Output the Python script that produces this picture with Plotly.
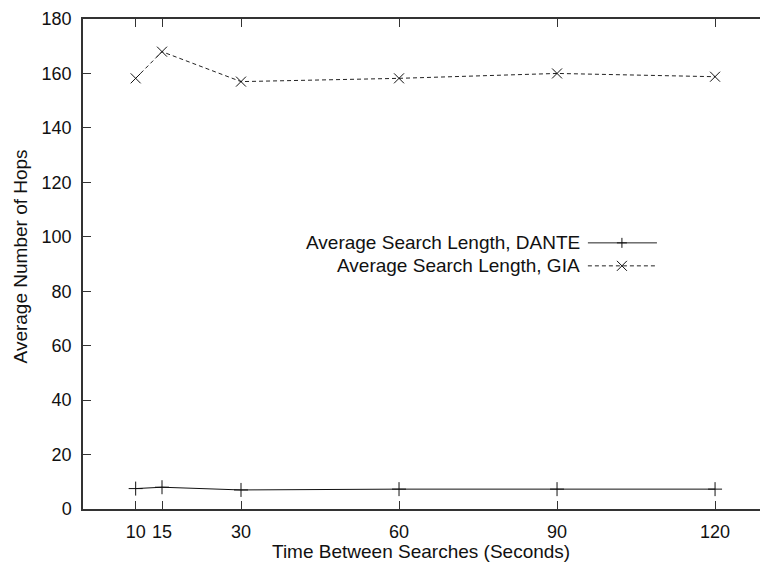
import plotly.graph_objects as go

# ---- data ----
time_between = [10, 15, 30, 60, 90, 120]
dante_hops = [7.5, 8.0, 7.0, 7.3, 7.3, 7.3]
gia_hops = [158.2, 168.0, 157.0, 158.2, 160.0, 158.8]
x_ticks = [10, 15, 30, 60, 90, 120]
y_ticks = [0, 20, 40, 60, 80, 100, 120, 140, 160, 180]
series_names = ["Average Search Length, DANTE", "Average Search Length, GIA"]

# ---- layout constants ----
W_FIG, H_FIG = 760, 568
L, T = 83.4, 19.0
BOT = 509.3
R = 0
PW = W_FIG - L - R
PH = BOT - T
FONT = "Liberation Sans, Arial, Helvetica, sans-serif"
AX = "#333333"

def px(xp):
    return (xp - L) / PW

def py(yp):
    return (BOT - yp) / PH

fig = go.Figure()
fig.add_trace(go.Scatter(
    x=time_between, y=dante_hops, mode="lines+markers", name=series_names[0],
    line=dict(color="#111111", width=1),
    marker=dict(symbol="cross-thin", size=10, line=dict(color="#111111", width=1)),
    showlegend=False))
fig.add_trace(go.Scatter(
    x=time_between, y=gia_hops, mode="lines+markers", name=series_names[1],
    line=dict(color="#222222", width=1, dash="4px,3px"),
    marker=dict(symbol="x-thin", size=10, line=dict(color="#111111", width=1)),
    showlegend=False))

# legend drawn manually (text left of sample, gnuplot style)
shapes = []
annotations = []
leg_rows = [(243, "solid", "plus"), (266, "dash", "x")]
for (yrow, dash, mk), name in zip(leg_rows, series_names):
    annotations.append(dict(x=px(582), y=py(yrow), xref="paper", yref="paper",
                            text=name, showarrow=False, xanchor="right", yanchor="middle",
                            font=dict(family=FONT, size=19, color="#111111")))
    shapes.append(dict(type="line", xref="paper", yref="paper",
                       x0=px(588), x1=px(657), y0=py(yrow), y1=py(yrow),
                       line=dict(color="#222222", width=1, dash="solid" if dash == "solid" else "4px,3px")))
    cx, cy, s = 622, yrow, 5
    if mk == "plus":
        segs = [((cx - s, cy), (cx + s, cy)), ((cx, cy - s), (cx, cy + s))]
    else:
        segs = [((cx - s, cy - s), (cx + s, cy + s)), ((cx - s, cy + s), (cx + s, cy - s))]
    for (a, b) in segs:
        shapes.append(dict(type="line", xref="paper", yref="paper",
                           x0=px(a[0]), y0=py(a[1]), x1=px(b[0]), y1=py(b[1]),
                           line=dict(color="#111111", width=1)))

# axis titles
annotations.append(dict(x=px(421), y=py(552), xref="paper", yref="paper",
                        text="Time Between Searches (Seconds)", showarrow=False,
                        xanchor="center", yanchor="middle",
                        font=dict(family=FONT, size=19, color="#111111")))
annotations.append(dict(x=px(21), y=py(257), xref="paper", yref="paper",
                        text="Average Number of Hops", showarrow=False, textangle=-90,
                        xanchor="center", yanchor="middle",
                        font=dict(family=FONT, size=19, color="#111111")))

xmax = 0 + PW / 5.264

fig.update_layout(
    width=W_FIG, height=H_FIG,
    margin=dict(l=L, r=R, t=T, b=H_FIG - BOT, pad=0),
    plot_bgcolor="white", paper_bgcolor="white",
    font=dict(family=FONT, size=18, color="#111111"),
    shapes=shapes, annotations=annotations,
    xaxis=dict(range=[0, xmax], tickvals=x_ticks, ticktext=[str(v) for v in x_ticks],
               showgrid=False, zeroline=False, showline=True, linecolor=AX, linewidth=1.5,
               ticks="inside", ticklen=8, tickcolor=AX, tickwidth=1, mirror="ticks",
               tickfont=dict(size=18), ticklabelstandoff=6),
    yaxis=dict(range=[0, 180], tickvals=y_ticks, showgrid=False, zeroline=False,
               showline=True, linecolor=AX, linewidth=1.5,
               ticks="inside", ticklen=8, tickcolor=AX, tickwidth=1,
               tickfont=dict(size=18), ticklabelstandoff=6),
)

fig.write_html("out.html")
